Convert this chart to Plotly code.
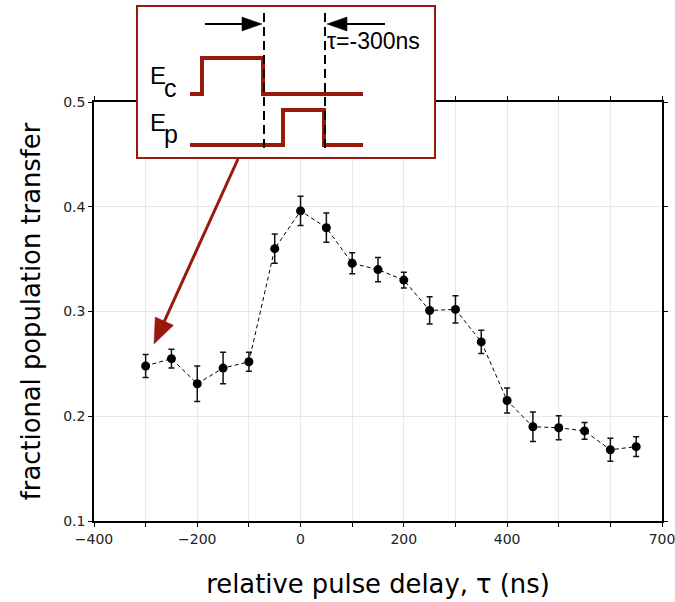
import math
import plotly.graph_objects as go

# ---- data ----
delay_ns = [-300, -250, -200, -150, -100, -50, 0, 50, 100, 150, 200, 250, 300,
            350, 400, 450, 500, 550, 600, 650]
transfer = [0.248, 0.255, 0.231, 0.246, 0.252, 0.360, 0.396, 0.380, 0.346, 0.340,
            0.330, 0.301, 0.302, 0.271, 0.215, 0.190, 0.189, 0.186, 0.168, 0.171]
transfer_err = [0.011, 0.009, 0.017, 0.015, 0.009, 0.014, 0.014, 0.014, 0.010, 0.0115,
                0.0075, 0.013, 0.013, 0.011, 0.012, 0.014, 0.0115, 0.008, 0.011, 0.0095]
x_tickvals = [-400, -200, 0, 200, 400, 700]
x_ticktext = ["−400", "−200", "0", "200", "400", "700"]
y_tickvals = [0.1, 0.2, 0.3, 0.4, 0.5]
y_ticktext = ["0.1", "0.2", "0.3", "0.4", "0.5"]

RED = "#981a0c"
W, H = 675, 602
L, R, T, B = 94, 662, 102, 521


def px(x):
    return (x - L) / (R - L)


def py(y):
    return (B - y) / (B - T)


def path(points, close=False):
    s = "M " + " L ".join(f"{px(a):.5f},{py(b):.5f}" for a, b in points)
    return s + (" Z" if close else "")


def arrow_shapes(tail, head, color, width, head_len, head_half):
    dx, dy = head[0] - tail[0], head[1] - tail[1]
    n = math.hypot(dx, dy)
    ux, uy = dx / n, dy / n
    bx, by = head[0] - head_len * ux, head[1] - head_len * uy
    nx, ny = -uy, ux
    tri = [head, (bx + head_half * nx, by + head_half * ny),
           (bx - head_half * nx, by - head_half * ny)]
    return [
        dict(type="path", xref="paper", yref="paper",
             path=path([tail, (bx + 2 * ux, by + 2 * uy)]),
             line=dict(color=color, width=width), layer="above"),
        dict(type="path", xref="paper", yref="paper", path=path(tri, close=True),
             line=dict(color=color, width=0.5), fillcolor=color, layer="above"),
    ]


def label(text, x, y, size):
    return dict(xref="paper", yref="paper", x=px(x), y=py(y), xanchor="left",
                yanchor="middle", text=text, showarrow=False,
                font=dict(family="Liberation Sans, Arial", size=size, color="black"))


fig = go.Figure()
fig.add_trace(go.Scatter(
    x=delay_ns, y=transfer,
    mode="lines+markers",
    line=dict(color="black", width=1, dash="4px,3px"),
    marker=dict(color="black", size=9),
    error_y=dict(type="data", array=transfer_err, visible=True,
                 color="#111", thickness=1.5, width=3),
    showlegend=False,
))

shapes = [
    dict(type="rect", xref="paper", yref="paper",
         x0=px(137), x1=px(435), y0=py(158), y1=py(6),
         line=dict(color=RED, width=2), fillcolor="white", layer="above"),
    dict(type="path", xref="paper", yref="paper",
         path=path([(190, 94), (202, 94), (202, 58), (263, 58), (263, 94), (363, 94)]),
         line=dict(color=RED, width=4), layer="above"),
    dict(type="path", xref="paper", yref="paper",
         path=path([(190, 145), (283, 145), (283, 110), (324, 110), (324, 145), (363, 145)]),
         line=dict(color=RED, width=4), layer="above"),
    dict(type="line", xref="paper", yref="paper",
         x0=px(264), x1=px(264), y0=py(13), y1=py(148),
         line=dict(color="black", width=2, dash="9px,5px"), layer="above"),
    dict(type="line", xref="paper", yref="paper",
         x0=px(325), x1=px(325), y0=py(13), y1=py(148),
         line=dict(color="black", width=2, dash="9px,5px"), layer="above"),
]
shapes += arrow_shapes((205, 24), (262, 24), "black", 2, 20, 7)
shapes += arrow_shapes((385, 24), (327, 24), "black", 2, 20, 7)
shapes += arrow_shapes((238, 159), (154, 344), RED, 3, 25, 10)

annotations = [
    label("τ=-300ns", 325, 41, 23),
    label("E", 148, 75, 24),
    label("c", 162, 88, 25),
    label("E", 148, 122, 24),
    label("p", 162, 134, 25),
]

axis_common = dict(
    showline=True, linecolor="black", linewidth=1.5, mirror="ticks",
    ticks="outside", ticklen=4, tickcolor="black", tickwidth=1.2,
    showgrid=True, gridcolor="#e8e8e8", gridwidth=1, zeroline=False,
    automargin=False, ticklabeloverflow="allow",
    tickfont=dict(family="DejaVu Sans", size=14, color="#222"),
)

fig.update_layout(
    width=W, height=H,
    margin=dict(l=L, r=W - R, t=T, b=H - B, autoexpand=False),
    paper_bgcolor="white", plot_bgcolor="white",
    shapes=shapes, annotations=annotations,
    xaxis=dict(range=[-400, 700], tickvals=x_tickvals, ticktext=x_ticktext,
               minor=dict(tick0=-400, dtick=100, ticks="outside", ticklen=4,
                          tickcolor="black", tickwidth=1.2,
                          showgrid=True, gridcolor="#e8e8e8", gridwidth=1),
               title=dict(text="relative pulse delay, τ (ns)", standoff=29,
                          font=dict(family="DejaVu Sans", size=25.8, color="black")),
               **axis_common),
    yaxis=dict(range=[0.1, 0.5], tickvals=y_tickvals, ticktext=y_ticktext,
               title=dict(text="fractional population transfer", standoff=15,
                          font=dict(family="DejaVu Sans", size=25.8, color="black")),
               **axis_common),
)

fig.write_html("out.html", config={"displayModeBar": False},
               post_script="document.body.style.margin='0px';"
                           "document.body.style.overflow='hidden';")
